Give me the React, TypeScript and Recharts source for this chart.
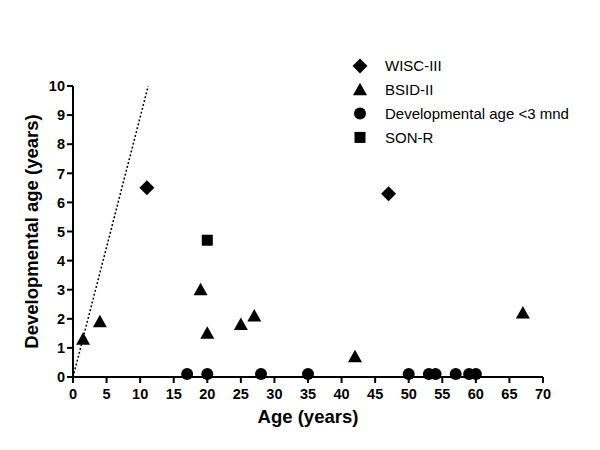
import React from 'react';
import { ScatterChart, Scatter, XAxis, YAxis, ReferenceLine } from 'recharts';

const wiscAge = [11, 47];
const wiscDev = [6.5, 6.3];
const bsidAge = [1.5, 4, 19, 20, 25, 27, 42, 67];
const bsidDev = [1.3, 1.9, 3.0, 1.5, 1.8, 2.1, 0.7, 2.2];
const lowAge = [17, 20, 28, 35, 50, 53, 54, 57, 59, 60];
const lowDev = [0.1, 0.1, 0.1, 0.1, 0.1, 0.1, 0.1, 0.1, 0.1, 0.1];
const sonAge = [20];
const sonDev = [4.7];
const xTicks = [0, 5, 10, 15, 20, 25, 30, 35, 40, 45, 50, 55, 60, 65, 70];
const yTicks = [0, 1, 2, 3, 4, 5, 6, 7, 8, 9, 10];
const refLine = [
  { x: 0, y: 0 },
  { x: 11.2, y: 10 },
];

const zip = (a: number[], b: number[]) => a.map((x, i) => ({ x, y: b[i] }));

const FONT = 'Arial, "Liberation Sans", sans-serif';

type Kind = 'diamond' | 'triangle' | 'circle' | 'square';

const glyph = (kind: Kind, cx: number, cy: number) => {
  switch (kind) {
    case 'diamond':
      return <path d={`M${cx},${cy - 7.5}L${cx + 7.5},${cy}L${cx},${cy + 7.5}L${cx - 7.5},${cy}Z`} fill="#000" />;
    case 'triangle':
      return <path d={`M${cx},${cy - 7}L${cx + 7},${cy + 5.5}L${cx - 7},${cy + 5.5}Z`} fill="#000" />;
    case 'circle':
      return <circle cx={cx} cy={cy} r={6} fill="#000" />;
    case 'square':
      return <rect x={cx - 5.5} y={cy - 5.5} width={11} height={11} fill="#000" />;
  }
};

const makeShape = (kind: Kind) => (props: any) => {
  const { cx, cy } = props;
  if (cx == null || cy == null) return <g />;
  return glyph(kind, cx, cy);
};

const XTick = (props: any) => {
  const { x, y, payload } = props;
  return (
    <text x={x} y={y + 4} dy="0.71em" textAnchor="middle" fill="#000" style={{ fontSize: 14.5, fontWeight: 700, fontFamily: FONT }}>
      {payload.value}
    </text>
  );
};

const YTick = (props: any) => {
  const { x, y, payload } = props;
  return (
    <text x={x} y={y} dy="0.36em" textAnchor="end" fill="#000" style={{ fontSize: 14.5, fontWeight: 700, fontFamily: FONT }}>
      {payload.value}
    </text>
  );
};

const legendItems: { name: string; kind: Kind }[] = [
  { name: 'WISC-III', kind: 'diamond' },
  { name: 'BSID-II', kind: 'triangle' },
  { name: 'Developmental age <3 mnd', kind: 'circle' },
  { name: 'SON-R', kind: 'square' },
];

const LegendBox = () => (
  <svg width={240} height={100} style={{ position: 'absolute', left: 344, top: 48, display: 'block' }}>
    {legendItems.map((it, i) => (
      <g key={it.name}>
        {glyph(it.kind, 8, 10 + i * 23.8)}
        <text x={33} y={10 + i * 23.8} dy="0.35em" fontSize={15} fontFamily={FONT} fill="#000">
          {it.name}
        </text>
      </g>
    ))}
  </svg>
);

export default function App() {
  return (
    <div style={{ width: 600, height: 450, background: '#fff', position: 'relative' }}>
      <ScatterChart width={600} height={450} margin={{ top: 78, right: 65, left: 15, bottom: 41 }}>
        <XAxis
          type="number"
          dataKey="x"
          domain={[0, 70]}
          ticks={xTicks}
          interval={0}
          height={40}
          axisLine={{ stroke: '#000', strokeWidth: 2 }}
          tickLine={{ stroke: '#000', strokeWidth: 2 }}
          tickSize={6}
          tickMargin={2}
          tick={<XTick />}
          label={{ value: 'Age (years)', position: 'insideBottom', offset: -6, fill: '#000', fontSize: 18.5, fontWeight: 'bold', fontFamily: FONT }}
        />
        <YAxis
          type="number"
          dataKey="y"
          domain={[0, 10]}
          ticks={yTicks}
          interval={0}
          width={50}
          axisLine={{ stroke: '#000', strokeWidth: 2 }}
          tickLine={{ stroke: '#000', strokeWidth: 2 }}
          tickSize={6}
          tickMargin={2}
          tick={<YTick />}
          label={{ value: 'Developmental age (years)', angle: -90, position: 'insideLeft', offset: 8, fill: '#000', fontSize: 18.5, fontWeight: 'bold', fontFamily: FONT, style: { textAnchor: 'middle' } }}
        />
        <ReferenceLine segment={refLine} stroke="#000" strokeWidth={1.5} strokeDasharray="2 2" ifOverflow="visible" />
        <Scatter name="WISC-III" data={zip(wiscAge, wiscDev)} shape={makeShape('diamond')} isAnimationActive={false} />
        <Scatter name="BSID-II" data={zip(bsidAge, bsidDev)} shape={makeShape('triangle')} isAnimationActive={false} />
        <Scatter name="Developmental age <3 mnd" data={zip(lowAge, lowDev)} shape={makeShape('circle')} isAnimationActive={false} />
        <Scatter name="SON-R" data={zip(sonAge, sonDev)} shape={makeShape('square')} isAnimationActive={false} />
      </ScatterChart>
      <LegendBox />
    </div>
  );
}
